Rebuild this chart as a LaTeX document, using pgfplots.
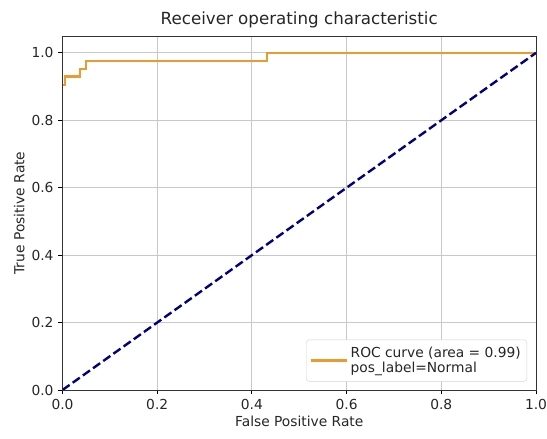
\documentclass[border=0pt]{standalone}
\usepackage{pgfplots}
\pgfplotsset{compat=1.18}
\usepackage{fontspec}
\setmainfont{DejaVu Sans}
\definecolor{roc}{RGB}{232,156,48}
\definecolor{navyc}{RGB}{0,0,128}
\definecolor{gridc}{RGB}{200,200,200}
\begin{document}
\begin{tikzpicture}
\begin{axis}[
  at={(62.5pt,49pt)}, anchor=south west,
  scale only axis, width=473.5pt, height=354pt,
  xmin=0, xmax=1, ymin=0, ymax=1.05,
  xtick={0,0.2,0.4,0.6,0.8,1.0},
  ytick={0,0.2,0.4,0.6,0.8,1.0},
  /pgf/number format/.cd, fixed, fixed zerofill, precision=1, assume math mode=true, /pgfplots/.cd,
  tick align=outside, tick pos=left,
  major tick length=4.5pt,
  tick style={black, line width=0.9pt},
  axis line style={black!80, line width=0.9pt},
  grid=major, major grid style={gridc, line width=0.9pt},
  ticklabel style={font=\fontsize{13.8}{16}\selectfont, text=black!85},
  xticklabel style={yshift=-1pt},
  yticklabel style={xshift=-1pt},
  label style={font=\fontsize{13.8}{16}\selectfont, text=black!85},
  xlabel={False Positive Rate},
  ylabel={True Positive Rate},
  title={Receiver operating characteristic},
  title style={font=\fontsize{16.7}{19}\selectfont, text=black!85, yshift=-2pt},
  legend style={at={(0.981,0.024)}, anchor=south east, draw=gray!35, rounded corners=3pt,
    font=\fontsize{13.8}{15.5}\selectfont, text=black!85, cells={align=left},
    inner xsep=4pt, inner ysep=5pt},
  legend cell align=left,
  legend image code/.code={\draw[#1] (0pt,0pt) -- (30pt,0pt); \path (0pt,0pt) -- (36pt,0pt);},
]
\addplot[roc, line width=2.4pt, const plot] coordinates {
(0,0.905) (0.005,0.905) (0.005,0.93) (0.037,0.93) (0.037,0.952) (0.049,0.952) (0.049,0.976) (0.432,0.976) (0.432,1.0) (1,1)};
\addlegendentry{ROC curve (area = 0.99)\\pos\_label=Normal}
\addplot[navyc, line width=2.4pt, dash pattern=on 8.7pt off 3.8pt, forget plot] coordinates {(0,0) (1,1)};
\end{axis}
\pgfresetboundingbox
\path[use as bounding box] (0,0) rectangle (547pt,439pt);
\end{tikzpicture}
\end{document}
